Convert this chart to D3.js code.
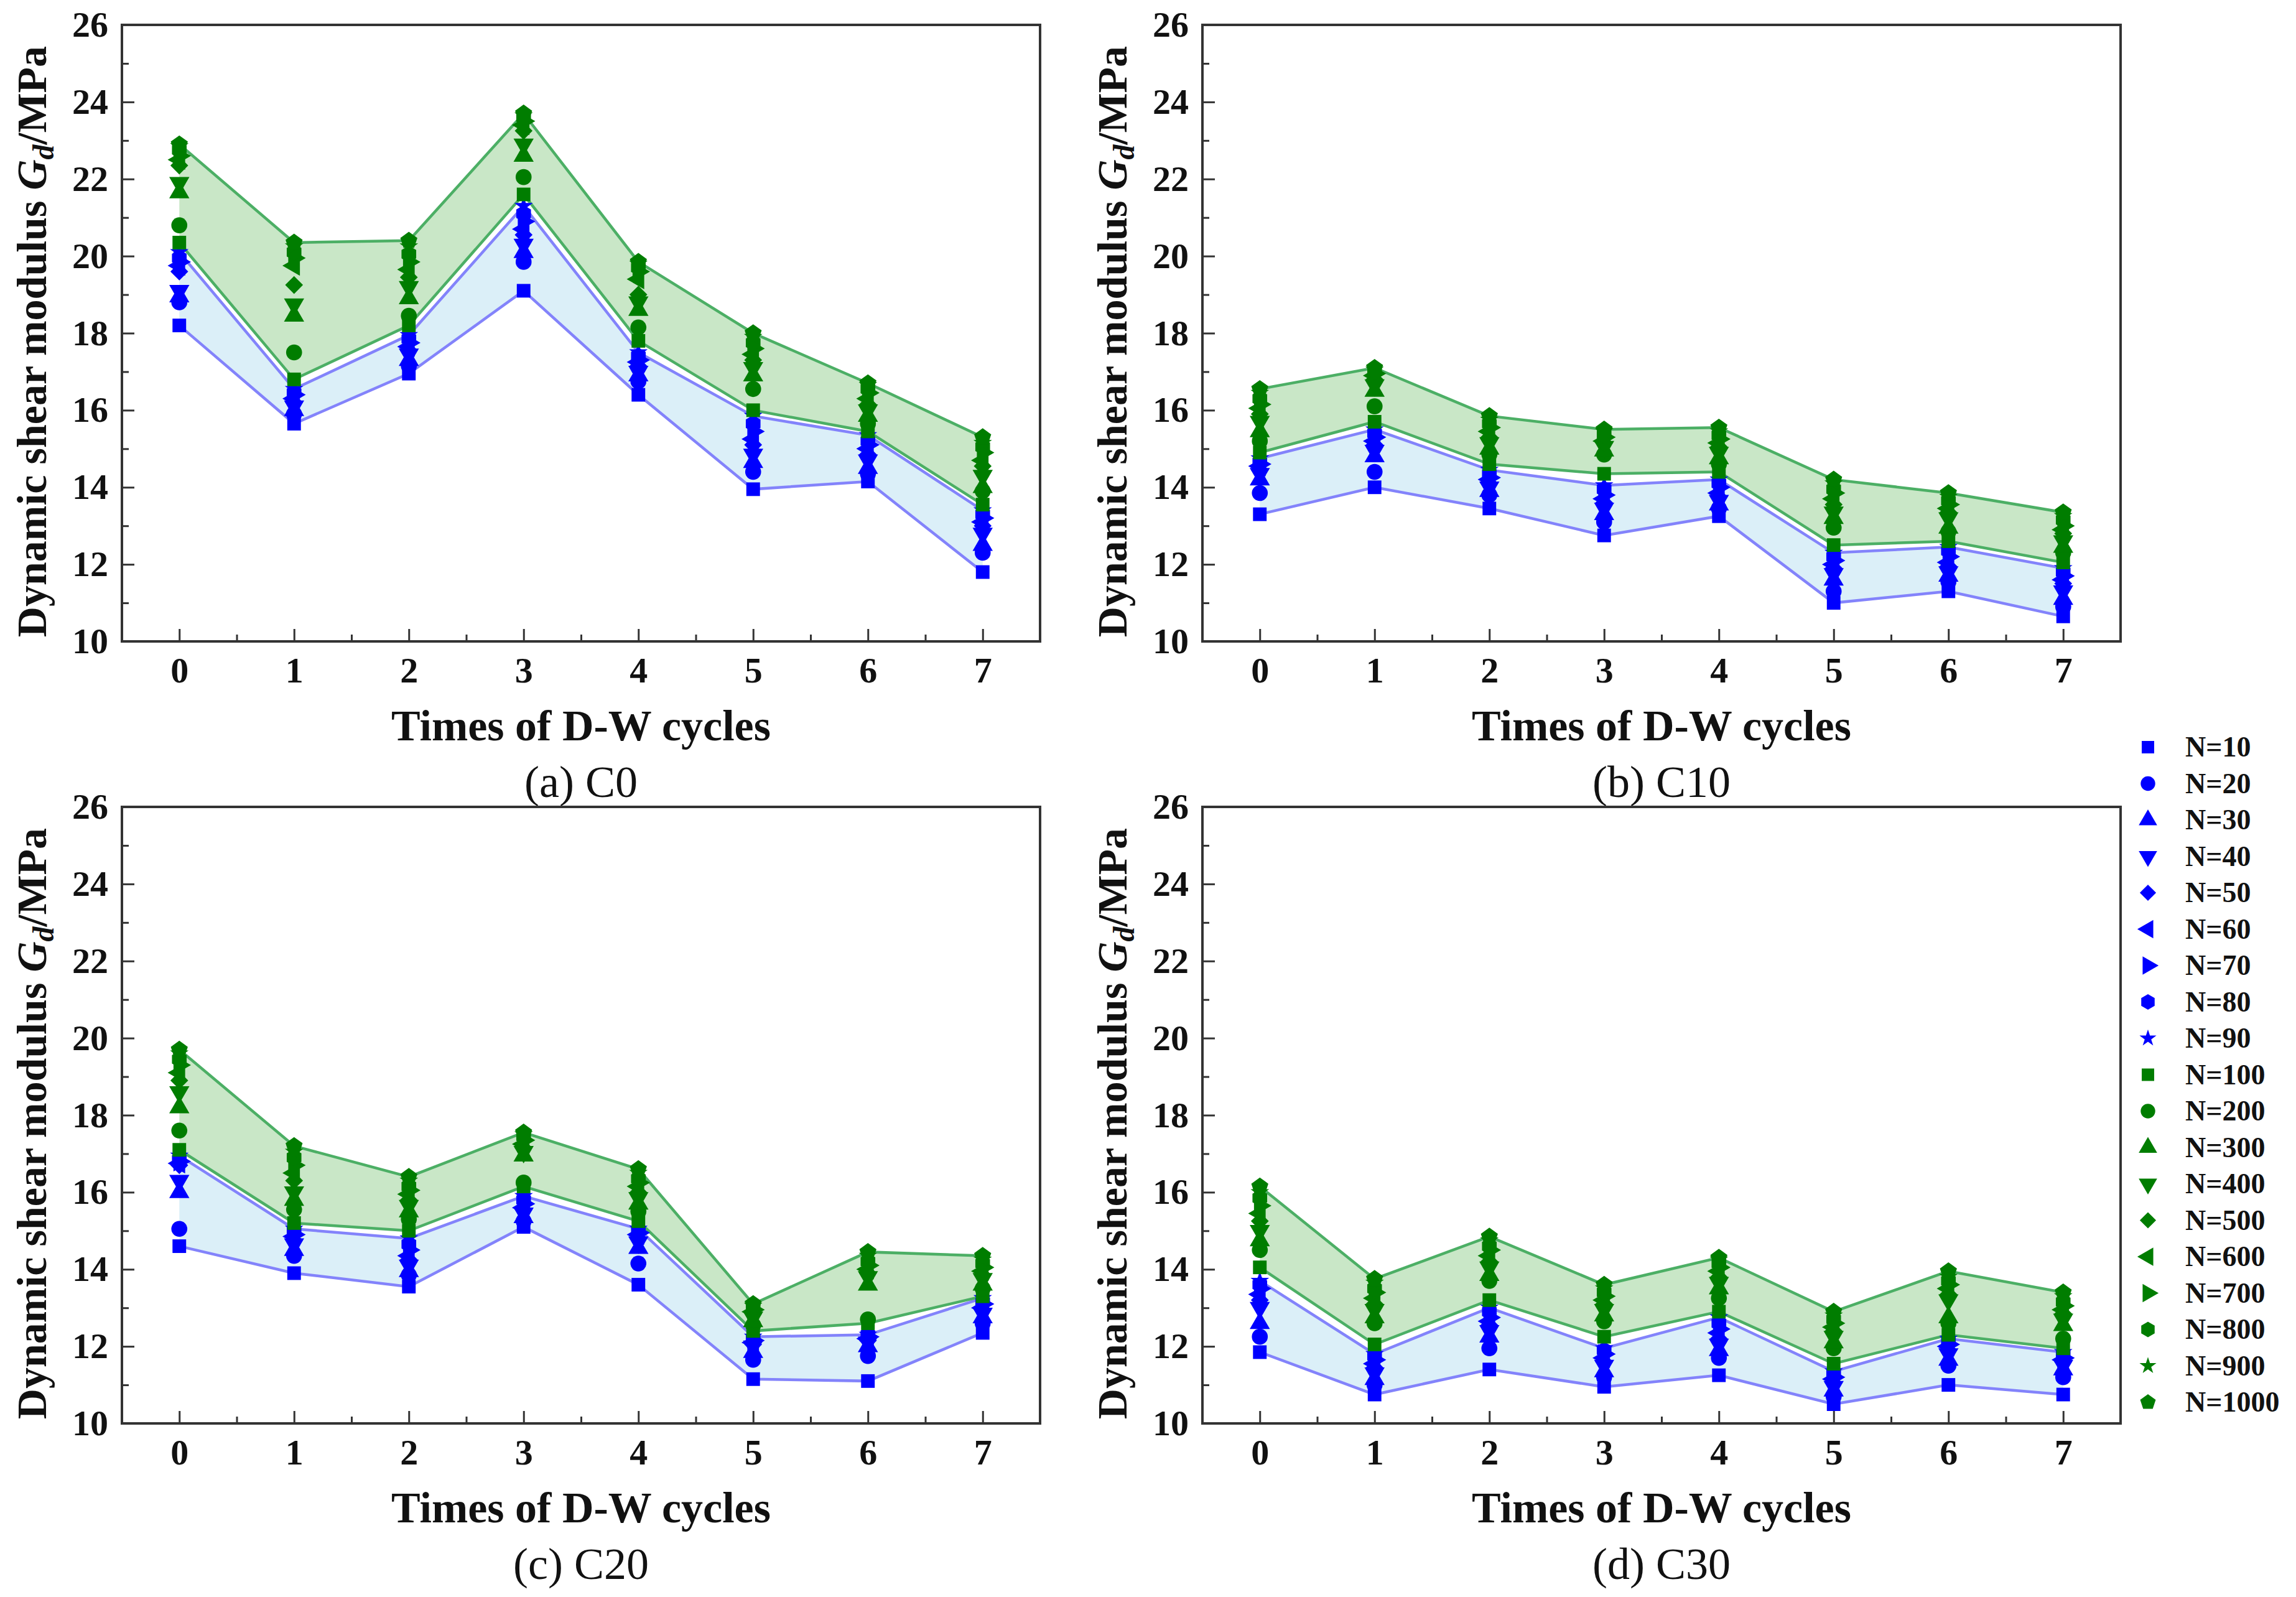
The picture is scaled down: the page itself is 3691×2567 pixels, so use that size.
<!DOCTYPE html>
<html>
<head>
<meta charset="utf-8">
<script src="https://cdn.jsdelivr.net/npm/d3@7"></script>
<style>
body { margin: 0; background: #fff; }
svg { display: block; }
text { font-family: "Liberation Serif", "Times New Roman", serif; }
</style>
</head>
<body>
<svg id="chart"></svg>
<script>
const width = 3691;
const height = 2567;

// x categories and labels
const cycles = [0, 1, 2, 3, 4, 5, 6, 7];
const nLabels = ["N=10", "N=20", "N=30", "N=40", "N=50", "N=60", "N=70", "N=80", "N=90",
    "N=100", "N=200", "N=300", "N=400", "N=500", "N=600", "N=700", "N=800", "N=900", "N=1000"];
const yTicks = [10, 12, 14, 16, 18, 20, 22, 24, 26];
const panelNames = ["(a) C0", "(b) C10", "(c) C20", "(d) C30"];

// one row per D-W cycle, 19 values per row (N=10 ... N=1000), MPa
const gdC0 = [
    [18.2, 18.8, 18.95, 19.1, 19.6, 19.75, 19.85, 19.95, 20.1, 20.35, 20.8, 21.65, 21.9, 22.35, 22.5, 22.6, 22.75, 22.85, 22.9],
    [15.65, 15.9, 16.0, 16.1, 16.2, 16.3, 16.4, 16.45, 16.55, 16.8, 17.5, 18.45, 18.75, 19.25, 19.75, 19.95, 20.1, 20.25, 20.35],
    [16.95, 17.15, 17.3, 17.45, 17.55, 17.65, 17.75, 17.85, 17.95, 18.2, 18.45, 18.9, 19.2, 19.45, 19.65, 19.85, 20.05, 20.25, 20.4],
    [19.1, 19.85, 20.1, 20.3, 20.55, 20.7, 20.9, 21.1, 21.3, 21.6, 22.05, 22.6, 22.9, 23.25, 23.4, 23.5, 23.6, 23.65, 23.7],
    [16.4, 16.75, 16.9, 17.0, 17.15, 17.25, 17.3, 17.4, 17.5, 17.8, 18.15, 18.6, 18.8, 19.0, 19.4, 19.6, 19.7, 19.8, 19.85],
    [13.95, 14.4, 14.65, 14.85, 15.1, 15.25, 15.45, 15.65, 15.85, 16.0, 16.55, 16.9, 17.1, 17.3, 17.45, 17.6, 17.75, 17.9, 18.0],
    [14.15, 14.35, 14.5, 14.7, 14.85, 15.0, 15.1, 15.2, 15.35, 15.45, 15.65, 15.85, 16.0, 16.15, 16.3, 16.45, 16.55, 16.65, 16.7],
    [11.8, 12.3, 12.5, 12.8, 13.0, 13.1, 13.2, 13.3, 13.4, 13.55, 13.9, 14.0, 14.3, 14.55, 14.7, 14.9, 15.05, 15.15, 15.3]
];
const gdC10 = [
    [13.3, 13.85, 14.2, 14.35, 14.45, 14.55, 14.6, 14.65, 14.75, 14.9, 15.2, 15.45, 15.7, 15.9, 16.05, 16.15, 16.3, 16.45, 16.55],
    [14.0, 14.4, 14.8, 14.95, 15.1, 15.2, 15.3, 15.4, 15.5, 15.7, 16.1, 16.5, 16.65, 16.8, 16.9, 16.95, 17.0, 17.05, 17.1],
    [13.45, 13.8, 13.9, 14.0, 14.1, 14.2, 14.25, 14.35, 14.45, 14.6, 14.85, 15.0, 15.15, 15.3, 15.45, 15.55, 15.65, 15.75, 15.85],
    [12.75, 13.1, 13.3, 13.45, 13.6, 13.7, 13.8, 13.95, 14.05, 14.35, 14.85, 14.95, 15.05, 15.15, 15.2, 15.3, 15.35, 15.45, 15.5],
    [13.25, 13.45, 13.55, 13.65, 13.75, 13.85, 14.0, 14.1, 14.2, 14.4, 14.6, 14.75, 14.9, 15.05, 15.15, 15.25, 15.35, 15.45, 15.55],
    [11.0, 11.3, 11.6, 11.75, 11.9, 12.0, 12.1, 12.2, 12.3, 12.5, 12.95, 13.2, 13.35, 13.55, 13.7, 13.85, 13.95, 14.1, 14.2],
    [11.3, 11.55, 11.7, 11.8, 11.95, 12.05, 12.2, 12.35, 12.45, 12.6, 12.85, 12.95, 13.2, 13.35, 13.45, 13.55, 13.65, 13.75, 13.85],
    [10.65, 10.9, 11.1, 11.3, 11.5, 11.6, 11.7, 11.8, 11.9, 12.05, 12.3, 12.45, 12.6, 12.8, 12.9, 13.0, 13.15, 13.25, 13.35]
];
const gdC20 = [
    [14.6, 15.05, 16.0, 16.3, 16.7, 16.75, 16.8, 16.85, 16.95, 17.1, 17.6, 18.2, 18.6, 18.9, 19.1, 19.3, 19.45, 19.6, 19.7],
    [13.9, 14.35, 14.5, 14.65, 14.75, 14.85, 14.9, 15.0, 15.05, 15.2, 15.55, 15.8, 16.0, 16.3, 16.5, 16.7, 16.9, 17.05, 17.2],
    [13.55, 13.85, 13.95, 14.1, 14.25, 14.35, 14.5, 14.65, 14.8, 15.0, 15.3, 15.5, 15.65, 15.8, 15.95, 16.05, 16.15, 16.3, 16.4],
    [15.1, 15.25, 15.35, 15.45, 15.55, 15.6, 15.7, 15.8, 15.9, 16.15, 16.25, 16.95, 17.05, 17.15, 17.25, 17.35, 17.45, 17.5, 17.55],
    [13.6, 14.15, 14.55, 14.7, 14.8, 14.9, 14.95, 15.0, 15.05, 15.25, 15.5, 15.7, 15.85, 16.0, 16.15, 16.25, 16.35, 16.5, 16.6],
    [11.15, 11.65, 11.85, 12.0, 12.05, 12.1, 12.15, 12.2, 12.25, 12.4, 12.55, 12.65, 12.75, 12.85, 12.9, 12.95, 13.0, 13.05, 13.1],
    [11.1, 11.75, 12.0, 12.1, 12.15, 12.2, 12.25, 12.3, 12.3, 12.6, 12.7, 13.6, 13.8, 13.9, 14.0, 14.1, 14.2, 14.35, 14.45],
    [12.35, 12.6, 12.75, 12.85, 12.95, 13.0, 13.1, 13.15, 13.25, 13.3, 13.5, 13.6, 13.75, 13.85, 13.95, 14.05, 14.15, 14.25, 14.35]
];
const gdC30 = [
    [11.85, 12.25, 12.6, 13.0, 13.2, 13.35, 13.5, 13.6, 13.7, 14.05, 14.5, 14.75, 15.0, 15.25, 15.45, 15.65, 15.85, 16.0, 16.15],
    [10.75, 11.0, 11.15, 11.3, 11.45, 11.55, 11.65, 11.75, 11.8, 12.05, 12.6, 12.75, 12.95, 13.1, 13.25, 13.4, 13.5, 13.65, 13.75],
    [11.4, 11.95, 12.25, 12.4, 12.55, 12.65, 12.75, 12.9, 13.0, 13.2, 13.7, 13.85, 14.05, 14.2, 14.35, 14.5, 14.6, 14.75, 14.85],
    [10.95, 11.2, 11.35, 11.5, 11.6, 11.7, 11.8, 11.9, 11.95, 12.25, 12.65, 12.8, 12.95, 13.1, 13.2, 13.3, 13.4, 13.5, 13.6],
    [11.25, 11.7, 11.9, 12.05, 12.2, 12.35, 12.45, 12.6, 12.75, 12.9, 13.25, 13.5, 13.65, 13.8, 13.95, 14.05, 14.15, 14.25, 14.3],
    [10.5, 10.7, 10.85, 10.95, 11.05, 11.15, 11.2, 11.3, 11.35, 11.55, 11.95, 12.1, 12.25, 12.4, 12.5, 12.6, 12.7, 12.8, 12.9],
    [11.0, 11.5, 11.65, 11.8, 11.9, 12.0, 12.05, 12.15, 12.2, 12.3, 12.6, 12.75, 13.2, 13.35, 13.5, 13.6, 13.7, 13.8, 13.95],
    [10.75, 11.2, 11.4, 11.5, 11.6, 11.65, 11.7, 11.8, 11.85, 11.95, 12.2, 12.55, 12.7, 12.85, 12.95, 13.05, 13.15, 13.3, 13.4]
];

// colours
const blueMark = "#0000ff";
const greenMark = "#007d00";
const blueLine = "#8383fb";
const greenLine = "#4caf65";
const blueFill = "#dbeff8";
const greenFill = "#c9e7c7";
const axisColor = "#333";

// extra symbols that d3 does not ship
const symbolSquareRot = {
    draw(ctx, size) {
        const r = Math.sqrt(size) * 0.72;
        ctx.moveTo(0, -r); ctx.lineTo(r, 0); ctx.lineTo(0, r); ctx.lineTo(-r, 0); ctx.closePath();
    }
};
const polygon = function(n, k) {
    return {
        draw(ctx, size) {
            const r = Math.sqrt(size) * k;
            for (let i = 0; i < n; i++) {
                const a = -Math.PI / 2 + i * 2 * Math.PI / n;
                if (i === 0) ctx.moveTo(r * Math.cos(a), r * Math.sin(a));
                else ctx.lineTo(r * Math.cos(a), r * Math.sin(a));
            }
            ctx.closePath();
        }
    };
};
// type, rotation, size for each N (plot markers a bit bigger than legend ones)
const shapes = [
    [d3.symbolSquare, 0, 400],
    [d3.symbolCircle, 0, 430],
    [d3.symbolTriangle, 0, 380],
    [d3.symbolTriangle, 180, 380],
    [symbolSquareRot, 0, 330],
    [d3.symbolTriangle, -90, 380],
    [d3.symbolTriangle, 90, 380],
    [polygon(6, 0.6), 0, 430],
    [d3.symbolStar, 0, 230],
    [polygon(5, 0.64), 0, 420]
];
const shapeOf = i => shapes[i < 9 ? i : i - 9];
const colorOf = i => i < 9 ? blueMark : greenMark;
const plotScale = 1.2;

const svg = d3.select("#chart").attr("width", width).attr("height", height);
svg.append("rect").attr("width", width).attr("height", height).attr("fill", "#fff");

const plotW = 1476;
const plotH = 991;
const panels = [
    {left: 196, top: 40, data: gdC0},
    {left: 1933, top: 40, data: gdC10},
    {left: 196, top: 1297, data: gdC20},
    {left: 1933, top: 1297, data: gdC30}
];

const x = d3.scaleLinear().domain([-0.5, 7.5]).range([0, plotW]);
const y = d3.scaleLinear().domain([10, 26]).range([plotH, 0]);

panels.forEach(function(p, pi) {
    const g = svg.append("g").attr("transform", `translate(${p.left},${p.top})`);

    // bands: N=10 to N=90 (blue) and N=100 to N=1000 (green)
    const band = (lo, hi) => d3.area()
        .x((d, c) => x(cycles[c]))
        .y0(d => y(d[lo]))
        .y1(d => y(d[hi]));
    g.append("path").attr("d", band(0, 8)(p.data)).attr("fill", blueFill);
    g.append("path").attr("d", band(9, 18)(p.data)).attr("fill", greenFill);

    const edge = k => d3.line().x((d, c) => x(cycles[c])).y(d => y(d[k]));
    [[0, blueLine], [8, blueLine], [9, greenLine], [18, greenLine]].forEach(function(e) {
        g.append("path").attr("d", edge(e[0])(p.data))
            .attr("fill", "none").attr("stroke", e[1]).attr("stroke-width", 4.5);
    });

    // markers, one group per N
    nLabels.forEach(function(name, i) {
        const s = shapeOf(i);
        g.append("g").selectAll("path")
            .data(p.data)
            .enter()
            .append("path")
                .attr("d", d3.symbol().type(s[0]).size(s[2] * plotScale))
                .attr("transform", (d, c) => `translate(${x(cycles[c])},${y(d[i])}) rotate(${s[1]})`)
                .attr("fill", colorOf(i));
    });

    // axes with inward ticks
    g.append("g").attr("transform", `translate(0,${plotH})`)
        .call(d3.axisBottom(x).tickValues(cycles).tickSizeInner(-20).tickSizeOuter(0).tickPadding(25));
    g.append("g").attr("transform", `translate(0,${plotH})`)
        .call(d3.axisBottom(x).tickValues(cycles.slice(0, 7).map(c => c + 0.5))
            .tickSizeInner(-11).tickSizeOuter(0).tickFormat(""));
    g.append("g")
        .call(d3.axisLeft(y).tickValues(yTicks).tickSizeInner(-20).tickSizeOuter(0).tickPadding(22));
    g.append("g")
        .call(d3.axisLeft(y).tickValues(yTicks.slice(0, 8).map(v => v + 1)).tickSizeInner(-11).tickSizeOuter(0).tickFormat(""));

    g.selectAll(".domain").remove();
    g.selectAll(".tick line").attr("stroke", axisColor).attr("stroke-width", 3);
    g.selectAll(".tick text")
        .attr("fill", "#111")
        .style("font-family", "'Liberation Serif', 'Times New Roman', serif")
        .style("font-size", "58px")
        .style("font-weight", "bold");

    g.append("rect").attr("width", plotW).attr("height", plotH)
        .attr("fill", "none").attr("stroke", axisColor).attr("stroke-width", 4);

    // titles
    g.append("text")
        .attr("x", plotW / 2).attr("y", plotH + 159)
        .attr("text-anchor", "middle")
        .style("font-size", "70px").style("font-weight", "bold").attr("fill", "#111")
        .text("Times of D-W cycles");
    g.append("text")
        .attr("x", plotW / 2).attr("y", plotH + 250)
        .attr("text-anchor", "middle")
        .style("font-size", "72px").attr("fill", "#111")
        .text(panelNames[pi]);

    const yt = g.append("text")
        .attr("transform", `translate(-122,${509}) rotate(-90)`)
        .attr("text-anchor", "middle")
        .style("font-size", "68px").style("font-weight", "bold").attr("fill", "#111");
    yt.append("tspan").text("Dynamic shear modulus ");
    yt.append("tspan").style("font-style", "italic").text("G");
    yt.append("tspan").style("font-style", "italic").style("font-size", "48px").attr("dy", 12).text("d");
    yt.append("tspan").attr("dy", -12).text("/MPa");
});

// legend
const legend = svg.append("g").attr("transform", "translate(3453,1201)");
nLabels.forEach(function(name, i) {
    const s = shapeOf(i);
    const row = legend.append("g").attr("transform", `translate(0,${i * 58.5})`);
    row.append("path")
        .attr("d", d3.symbol().type(s[0]).size(s[2]))
        .attr("transform", `rotate(${s[1]})`)
        .attr("fill", colorOf(i));
    row.append("text")
        .attr("x", 60).attr("y", 15)
        .style("font-size", "46px").style("font-weight", "bold").attr("fill", "#111")
        .text(name);
});
</script>
</body>
</html>
